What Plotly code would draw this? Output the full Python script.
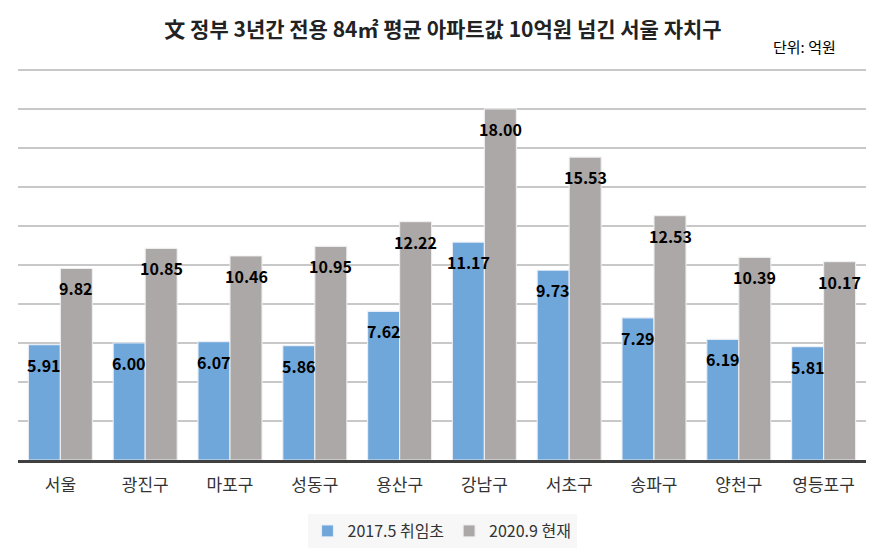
import plotly.graph_objects as go

categories = ["서울", "광진구", "마포구", "성동구", "용산구", "강남구", "서초구", "송파구", "양천구", "영등포구"]
values_2017 = [5.91, 6.00, 6.07, 5.86, 7.62, 11.17, 9.73, 7.29, 6.19, 5.81]
values_2020 = [9.82, 10.85, 10.46, 10.95, 12.22, 18.00, 15.53, 12.53, 10.39, 10.17]
series_names = ["2017.5 취임초", "2020.9 현재"]

BLUE = "#70A7DB"
GRAY = "#ACA8A7"
FONT = "Noto Sans CJK KR"

W, H = 886, 554
L, R, T, B = 18, 20, 68, 94
PW, PH = W - L - R, H - T - B

fig = go.Figure()
fig.add_trace(go.Bar(
    x=categories, y=values_2017, name=series_names[0],
    marker=dict(color=BLUE, line=dict(color="rgba(235,240,248,0.9)", width=1.2)),
))
fig.add_trace(go.Bar(
    x=categories, y=values_2020, name=series_names[1],
    marker=dict(color=GRAY, line=dict(color="rgba(240,240,240,0.9)", width=1.2)),
))

annotations = []
for vals, shift in ((values_2017, -16), (values_2020, 16)):
    for c, v in zip(categories, vals):
        annotations.append(dict(
            x=c, y=v, xref="x", yref="y", text=f"<b>{v:.2f}</b>",
            showarrow=False, xshift=shift, yshift=-20, yanchor="middle",
            font=dict(family=FONT, size=16, color="#000000"),
        ))

annotations.append(dict(
    x=(838 - L) / PW, y=(H - B - 47) / PH, xref="paper", yref="paper", text="단위: 억원",
    showarrow=False, xanchor="right", yanchor="middle",
    font=dict(family=FONT, size=15, color="#000000"),
))

fig.update_layout(
    width=W, height=H,
    margin=dict(l=L, r=R, t=T, b=B, autoexpand=False),
    paper_bgcolor="white", plot_bgcolor="white",
    title=dict(text="<b>文 정부 3년간 전용 84㎡ 평균 아파트값 10억원 넘긴 서울 자치구</b>",
               x=0.5, xanchor="center", y=1 - 30 / H, yanchor="middle",
               font=dict(family=FONT, size=21, color="#222222")),
    barmode="group", bargap=0.245, bargroupgap=0,
    showlegend=True,
    legend=dict(orientation="h", x=0.5, xanchor="center", y=-(531 - (H - B)) / PH, yanchor="middle",
                bgcolor="#F7F7F7", font=dict(family=FONT, size=16, color="#333333"),
                itemwidth=30, traceorder="normal"),
    xaxis=dict(showgrid=False, showline=True, linecolor="#404040", linewidth=3,
               ticks="", ticklabelstandoff=8, automargin=False,
               tickfont=dict(family=FONT, size=17, color="#333333")),
    yaxis=dict(range=[0, 20.1], dtick=2, showticklabels=False, showgrid=True, automargin=False,
               gridcolor="#C8C8C8", gridwidth=2, zeroline=False, fixedrange=True),
    annotations=annotations,
)

fig.write_html("out.html")
